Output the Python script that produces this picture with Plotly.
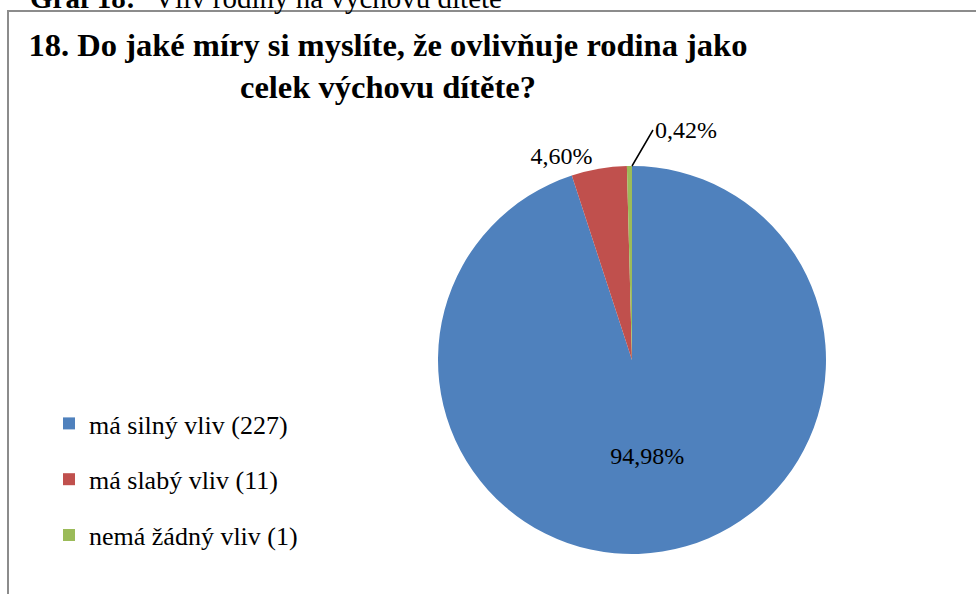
import plotly.graph_objects as go

# survey answers (question 18)
labels = ["má silný vliv (227)", "má slabý vliv (11)", "nemá žádný vliv (1)"]
counts = [227, 11, 1]
colors = ["#4F81BD", "#C0504D", "#9BBB59"]
text_pos = ["inside", "outside", "none"]

title_txt = "<b>18. Do jaké míry si myslíte, že ovlivňuje rodina jako<br>celek výchovu dítěte?</b>"

serif = "Liberation Serif"
W, H = 976, 594
pie_x = [(632 - 194) / W, (632 + 194) / W]
pie_y = [1 - 554 / H, 1 - 166 / H]

fig = go.Figure()
fig.add_trace(go.Pie(
    labels=labels,
    values=counts,
    sort=False,
    direction="clockwise",
    rotation=0,
    marker=dict(colors=colors),
    texttemplate="%{percent:.2%}",
    textposition=text_pos,
    insidetextorientation="horizontal",
    textfont=dict(family=serif, size=24, color="black"),
    showlegend=False,
    domain=dict(x=pie_x, y=pie_y),
    hoverinfo="label+percent",
))

# legend entries as separate traces so the gap between rows can be set
for lab, col in zip(labels, colors):
    fig.add_trace(go.Scatter(
        x=[None], y=[None], mode="markers", name=lab,
        marker=dict(symbol="square", size=12, color=col),
        legendgroup=lab, showlegend=True,
    ))

# tiny slice label with leader line, like the original
small_pct = "{:.2f}%".format(100 * counts[2] / sum(counts)).replace(".", ",")

fig.update_layout(
    width=W, height=H, autosize=False,
    margin=dict(l=0, r=0, t=0, b=0),
    paper_bgcolor="white", plot_bgcolor="white",
    separators=", ",
    xaxis=dict(visible=False), yaxis=dict(visible=False),
    title=dict(text=title_txt, x=388 / W, xanchor="center",
               y=1 - 56 / H, yanchor="top",
               font=dict(family=serif, size=32.5, color="black")),
    legend=dict(x=49 / W, y=1 - 400 / H, xanchor="left", yanchor="top",
                font=dict(family=serif, size=26, color="black"),
                tracegroupgap=19, bgcolor="rgba(0,0,0,0)"),
    shapes=[dict(type="rect", xref="paper", yref="paper",
                 x0=8 / W, x1=1.05, y0=-0.05, y1=1 - 11 / H,
                 line=dict(color="#8c8c8c", width=2))],
    annotations=[
        dict(text="<b>Graf 18:</b>", xref="paper", yref="paper",
             x=28 / W, y=1 - 16 / H, xanchor="left", yanchor="bottom",
             showarrow=False, font=dict(family=serif, size=29, color="black")),
        dict(text="Vliv rodiny na výchovu dítěte", xref="paper", yref="paper",
             x=152 / W, y=1 - 16 / H, xanchor="left", yanchor="bottom",
             showarrow=False, font=dict(family=serif, size=29, color="black")),
        dict(text=small_pct, xref="paper", yref="paper",
             x=sum(pie_x) / 2, y=pie_y[1], axref="pixel", ayref="pixel",
             ax=21, ay=-36, xanchor="left", yanchor="middle",
             showarrow=True, arrowhead=0, arrowwidth=1.5, arrowcolor="black",
             standoff=0, font=dict(family=serif, size=24, color="black")),
    ],
)

fig.write_html("out.html", config={"displayModeBar": False},
               post_script="document.body.style.margin='0';")
